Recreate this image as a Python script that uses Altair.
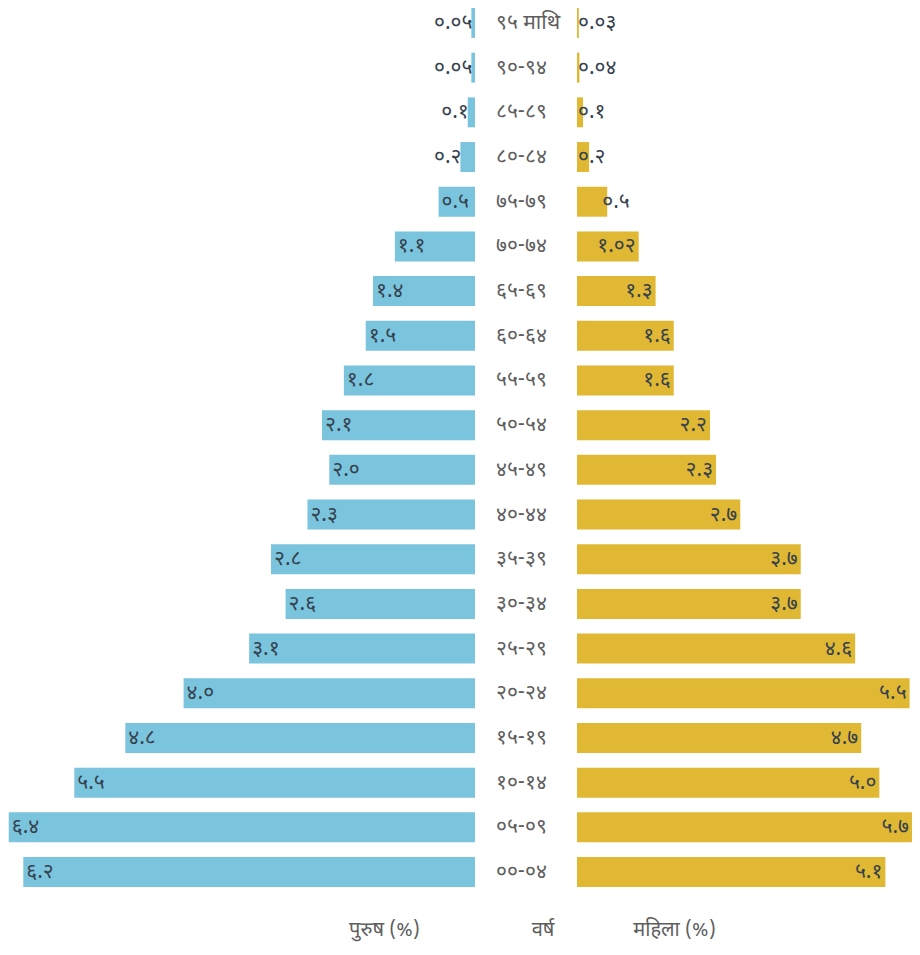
import altair as alt
import pandas as pd

ages = ["९५ माथि", "९०-९४", "८५-८९", "८०-८४", "७५-७९", "७०-७४", "६५-६९", "६०-६४",
        "५५-५९", "५०-५४", "४५-४९", "४०-४४", "३५-३९", "३०-३४", "२५-२९", "२०-२४",
        "१५-१९", "१०-१४", "०५-०९", "००-०४"]
male = [0.05, 0.05, 0.1, 0.2, 0.5, 1.1, 1.4, 1.5, 1.8, 2.1, 2.0, 2.3, 2.8, 2.6, 3.1,
        4.0, 4.8, 5.5, 6.4, 6.2]
female = [0.03, 0.04, 0.1, 0.2, 0.5, 1.02, 1.3, 1.6, 1.6, 2.2, 2.3, 2.7, 3.7, 3.7, 4.6,
          5.5, 4.7, 5.0, 5.7, 5.1]
male_labels = ["०.०५", "०.०५", "०.१", "०.२", "०.५", "१.१", "१.४", "१.५", "१.८", "२.१",
               "२.०", "२.३", "२.८", "२.६", "३.१", "४.०", "४.८", "५.५", "६.४", "६.२"]
female_labels = ["०.०३", "०.०४", "०.१", "०.२", "०.५", "१.०२", "१.३", "१.६", "१.६", "२.२",
                 "२.३", "२.७", "३.७", "३.७", "४.६", "५.५", "४.७", "५.०", "५.७", "५.१"]

FONT = "Noto Sans Devanagari, Lohit Devanagari, FreeSans, Noto Sans, sans-serif"
BLUE = "#7AC4DD"
GOLD = "#E0B833"
LABEL = "#35414d"
GRAY = "#5e5e5e"
H = 879
FS = 21

df = pd.DataFrame({"age": ages, "male": male, "female": female,
                   "mlab": male_labels, "flab": female_labels})

y = alt.Y("age:N", sort=ages, axis=None,
          scale=alt.Scale(type="band", paddingInner=0.33, paddingOuter=0))

def title(text, dx):
    return alt.TitleParams(text=text, orient="bottom", anchor="middle", dx=dx,
                           offset=33, fontSize=20, fontWeight="normal",
                           color=GRAY, font=FONT)

# male
mx = alt.X("male:Q", axis=None,
           scale=alt.Scale(domain=[0, 6.41], reverse=True, nice=False))
mbase = alt.Chart(df).encode(y=y, x=mx)
m_bar = mbase.mark_bar(color=BLUE)
m_txt_in = mbase.transform_filter("datum.male >= 0.5").mark_text(
    align="left", baseline="middle", dx=3, fontSize=FS, font=FONT, color=LABEL
).encode(text="mlab:N")
m_txt_out = mbase.transform_filter("datum.male < 0.5").mark_text(
    align="right", baseline="middle", dx=1, fontSize=FS, font=FONT, color=LABEL
).encode(text="mlab:N")
male_chart = alt.layer(m_bar, m_txt_in, m_txt_out).properties(
    width=467, height=H, title=title("पुरुष (%)", 143))

# center
center = alt.Chart(df).mark_text(
    align="left", baseline="middle", fontSize=FS, font=FONT, color=GRAY
).encode(y=y, x=alt.value(21), text="age:N").properties(
    width=102, height=H, title=title("वर्ष", 17))

# female
fx = alt.X("female:Q", axis=None,
           scale=alt.Scale(domain=[0, 5.54], nice=False, clamp=True))
fbase = alt.Chart(df).encode(y=y, x=fx)
f_bar = fbase.mark_bar(color=GOLD)
f_txt_in = fbase.transform_filter("datum.female >= 1").mark_text(
    align="right", baseline="middle", dx=-3, fontSize=FS, font=FONT, color=LABEL
).encode(text="flab:N")
f_txt_mid = fbase.transform_filter("datum.female >= 0.3 && datum.female < 1").mark_text(
    align="left", baseline="middle", dx=-5, fontSize=FS, font=FONT, color=LABEL
).encode(text="flab:N")
f_txt_small = alt.Chart(df).transform_filter("datum.female < 0.3").mark_text(
    align="left", baseline="middle", dx=1, fontSize=FS, font=FONT, color=LABEL
).encode(y=y, x=alt.datum(0), text="flab:N")
female_chart = alt.layer(f_bar, f_txt_in, f_txt_mid, f_txt_small).properties(
    width=335, height=H, title=title("महिला (%)", -70))

chart = alt.hconcat(male_chart, center, female_chart, spacing=0).properties(
    padding={"left": 0, "right": 0, "top": 0, "bottom": 8}
).configure_view(stroke=None).configure_title(fontWeight="normal")

chart.save("out.html", embed_options={"renderer": "svg", "actions": False})
